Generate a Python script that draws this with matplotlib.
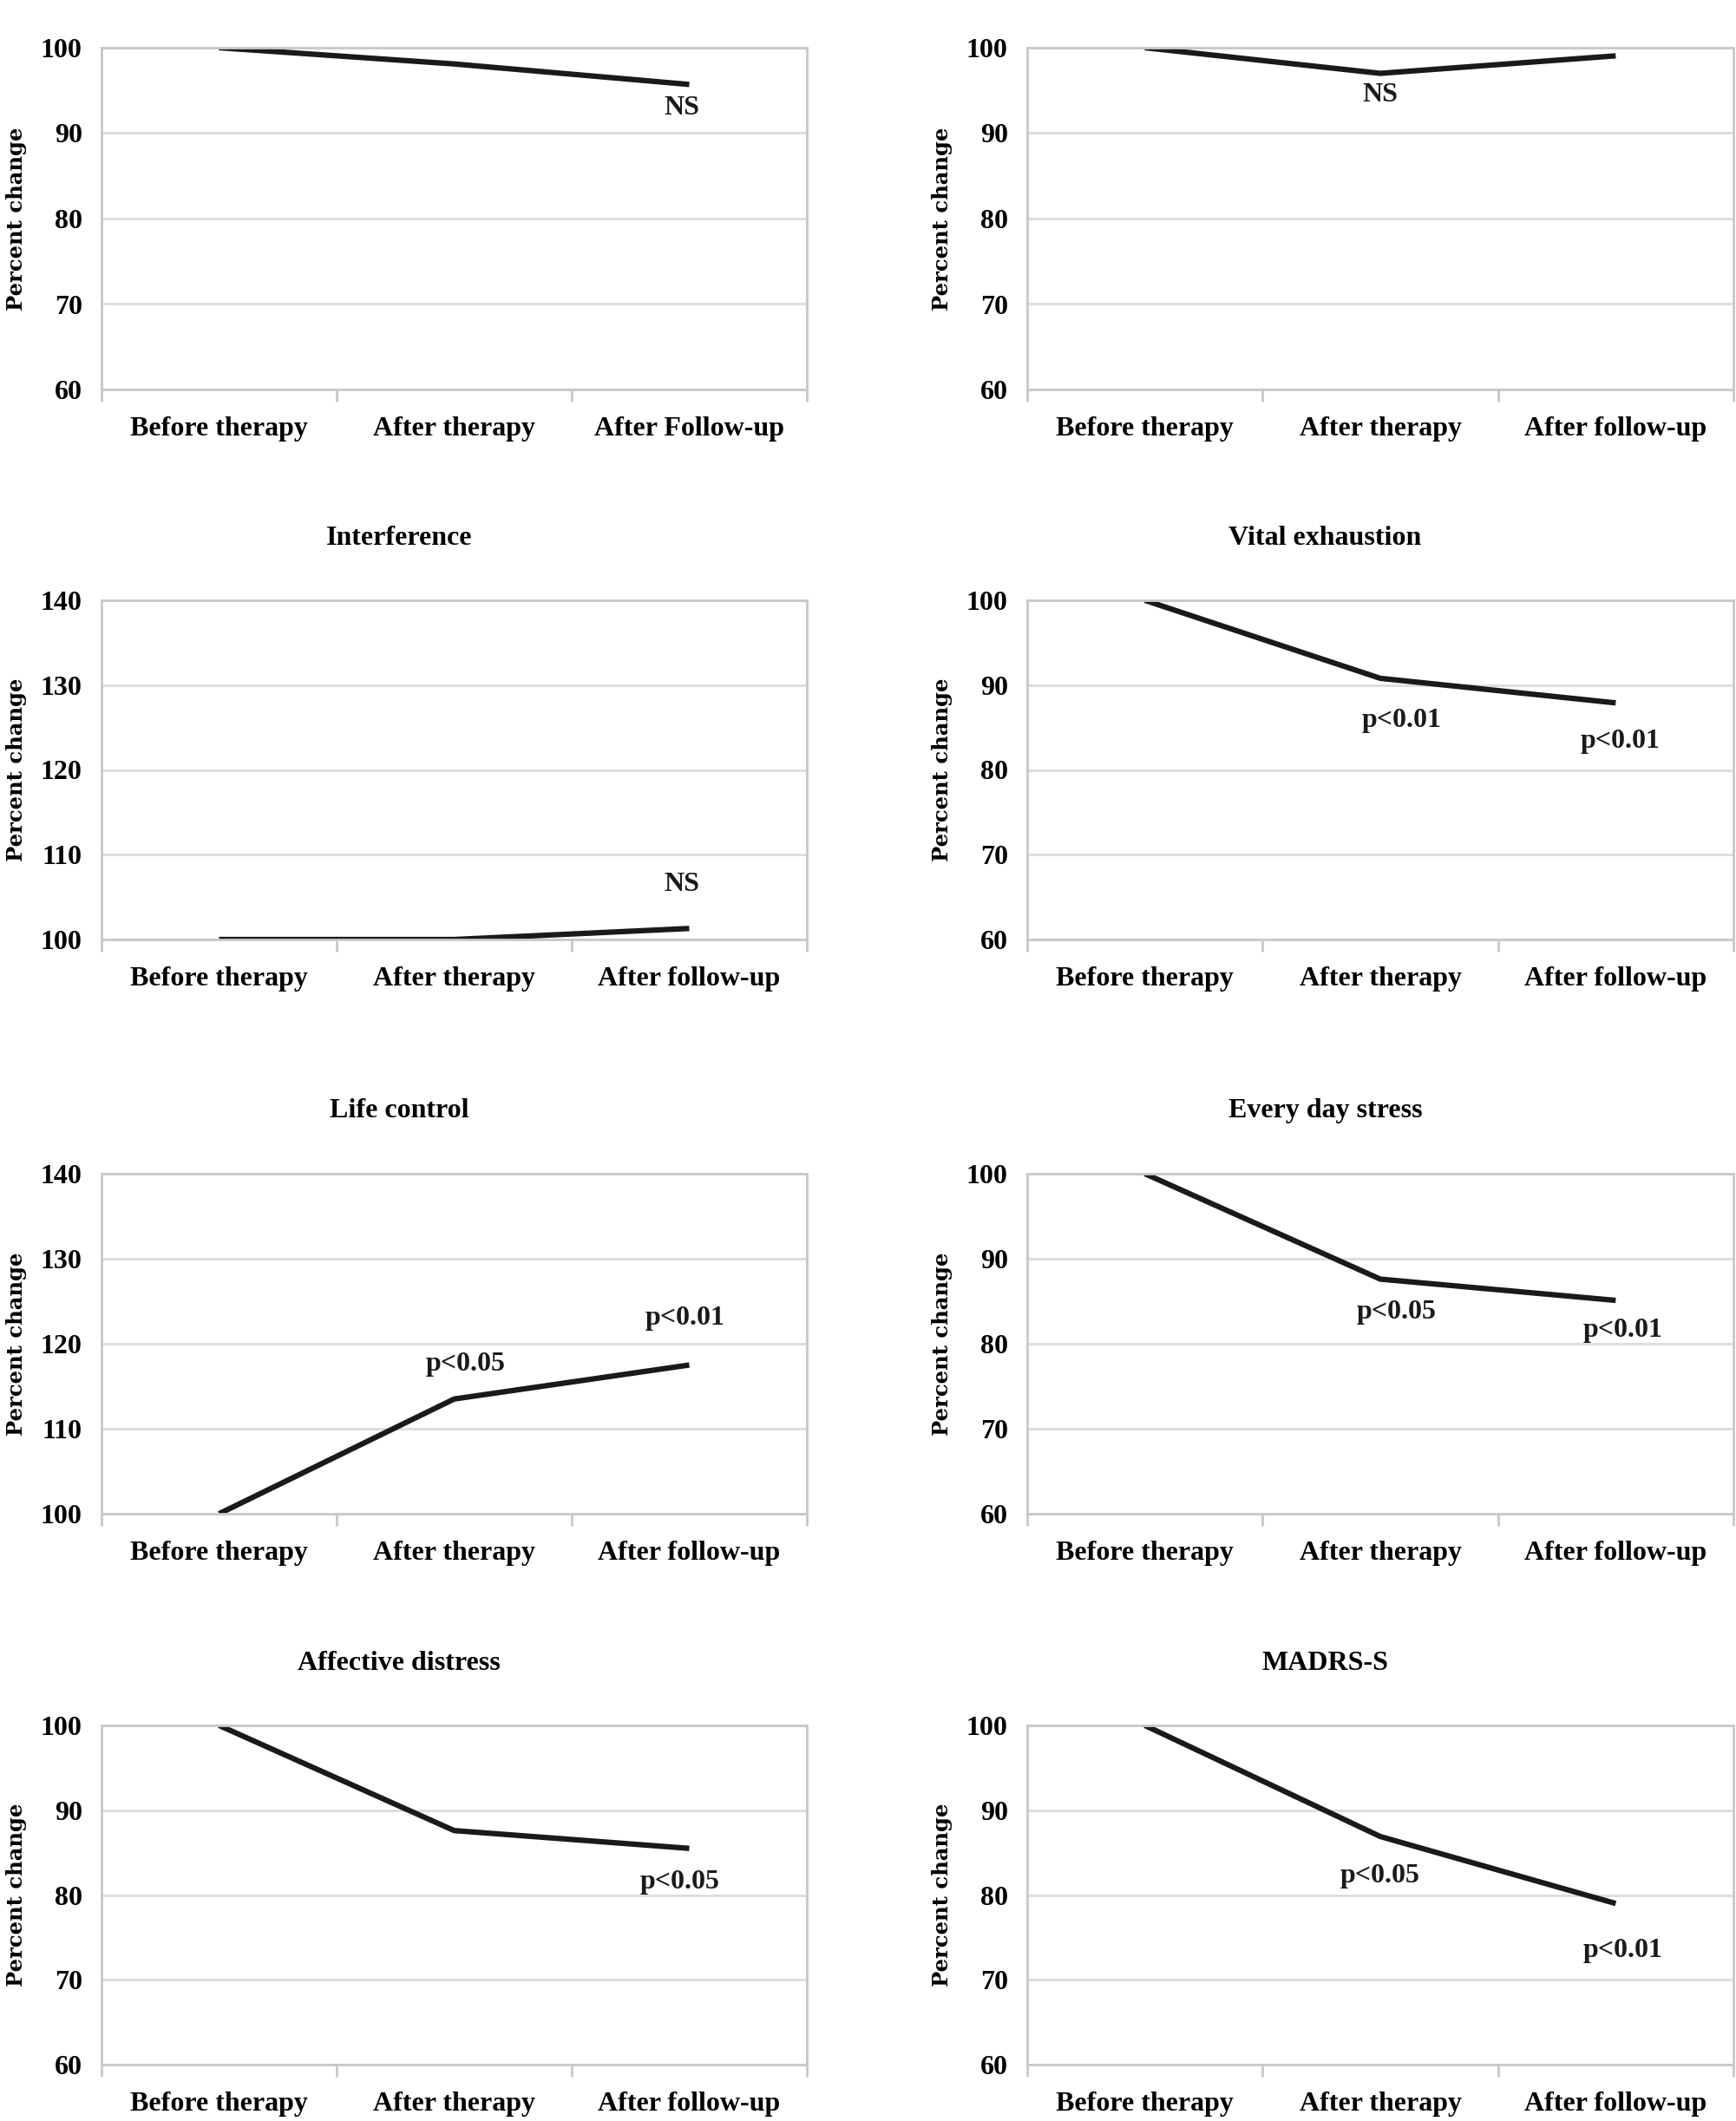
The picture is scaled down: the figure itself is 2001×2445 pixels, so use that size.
import matplotlib
matplotlib.use('Agg')
import matplotlib.pyplot as plt

categories = ['Before therapy', 'After therapy', 'After follow-up']
categories_first = ['Before therapy', 'After therapy', 'After Follow-up']

titles = ['', '', 'Interference', 'Vital exhaustion',
          'Life control', 'Every day stress', 'Affective distress', 'MADRS-S']

values = [
    [100, 98.1, 95.7],
    [100, 97.0, 99.05],
    [100, 100, 101.3],
    [100, 90.8, 87.9],
    [100, 113.5, 117.5],
    [100, 87.6, 85.1],
    [100, 87.6, 85.5],
    [100, 86.9, 79.0],
]

y_ranges = [(60, 100), (60, 100), (100, 140), (60, 100),
            (100, 140), (60, 100), (60, 100), (60, 100)]

# (label, x category, y value) for the significance notes
notes = [
    [('NS', 1.97, 92.9)],
    [('NS', 1.0, 94.5)],
    [('NS', 1.97, 106.5)],
    [('p<0.01', 1.09, 85.8), ('p<0.01', 2.02, 83.4)],
    [('p<0.05', 1.05, 117.6), ('p<0.01', 1.98, 123.0)],
    [('p<0.05', 1.07, 83.7), ('p<0.01', 2.03, 81.6)],
    [('p<0.05', 1.96, 81.5)],
    [('p<0.05', 1.0, 82.3), ('p<0.01', 2.03, 73.5)],
]

W, H = 2001, 2445
fig = plt.figure(figsize=(W / 100, H / 100), dpi=100)

col_x = [(117, 930), (1184, 1998)]
row_y = [(55, 449), (692, 1083), (1353, 1745), (1989, 2380)]

serif = 'Liberation Serif'
grey = '#c8c8c8'

for i in range(8):
    r, c = divmod(i, 2)
    x0, x1 = col_x[c]
    y0, y1 = row_y[r]
    ax = fig.add_axes([x0 / W, 1 - y1 / H, (x1 - x0) / W, (y1 - y0) / H])
    lo, hi = y_ranges[i]
    ax.set_xlim(-0.5, 2.5)
    ax.set_ylim(lo, hi)
    ax.plot(range(3), values[i], color='#1a1a1a', lw=4.5, solid_capstyle='butt')

    ax.set_yticks(range(lo, hi + 1, 10))
    ax.grid(axis='y', color='#dcdcdc', lw=2)
    ax.set_axisbelow(True)
    for s in ax.spines.values():
        s.set_color(grey)
        s.set_linewidth(2)

    labels = categories_first if i == 0 else categories
    ax.set_xticks(range(3))
    ax.set_xticklabels(labels)
    ax.set_xticks([-0.5, 0.5, 1.5, 2.5], minor=True)
    ax.tick_params(axis='x', which='major', length=0, pad=22)
    ax.tick_params(axis='x', which='minor', length=10, width=2, color=grey)
    ax.tick_params(axis='y', length=0, pad=16)
    for lab in ax.get_xticklabels() + ax.get_yticklabels():
        lab.set_fontfamily(serif)
        lab.set_fontweight('bold')
        lab.set_fontsize(23)

    ax.set_ylabel('Percent change', fontfamily='DejaVu Serif', fontweight='bold',
                  fontsize=17.5)
    ax.yaxis.set_label_coords(-0.106, 0.5)

    if titles[i]:
        ax.text(0.422, 1.184, titles[i], transform=ax.transAxes, ha='center',
                va='center', fontfamily=serif, fontweight='bold', fontsize=23)

    for txt, xv, yv in notes[i]:
        ax.text(xv, yv, txt, ha='center', va='center', fontfamily=serif,
                fontweight='bold', fontsize=23, color='#1a1a1a')

fig.savefig('out.png', dpi=100, facecolor='white')
